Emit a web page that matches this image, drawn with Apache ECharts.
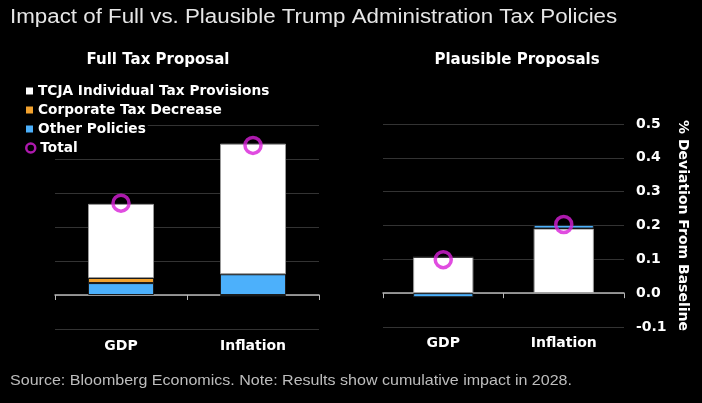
<!DOCTYPE html>
<html>
<head>
<meta charset="utf-8">
<style>html,body{margin:0;padding:0;background:#000;}#c{width:702px;height:403px;}</style>
<script src="https://cdn.jsdelivr.net/npm/echarts@6/dist/echarts.min.js"></script>
</head>
<body>
<div id="c"></div>
<script>
const categories = ['GDP', 'Inflation'];
const fullTCJA = [0.218, 0.384];
const fullCorporate = [0.015, -0.004];
const fullOther = [0.035, 0.061];
const fullTotal = [0.27, 0.44];
const plausTCJA = [0.107, 0.191];
const plausCorporate = [0, 0];
const plausOther = [-0.012, 0.011];
const plausTotal = [0.099, 0.203];
const yTicks = [-0.1, 0, 0.1, 0.2, 0.3, 0.4, 0.5];

const WHITE = '#ffffff', ORANGE = '#f2a22e', BLUE = '#4cb0fb', MAG = '#d81fd8';
const boldFont = 'DejaVu Sans';

const chart = echarts.init(document.getElementById('c'), null, {renderer: 'canvas'});

function xAxis(gi, margin) {
  return {
    type: 'category', gridIndex: gi, data: categories,
    axisLine: {onZero: true, lineStyle: {color: '#b8b8b8', width: 1.5}},
    axisTick: {show: true, length: 5, lineStyle: {color: '#b8b8b8', width: 1}},
    axisLabel: {color: '#fff', fontFamily: boldFont, fontWeight: 'bold', fontSize: 14, margin: margin},
    splitLine: {show: false}
  };
}
function yAxis(gi, showLabels) {
  return {
    type: 'value', gridIndex: gi, min: yTicks[0], max: yTicks[yTicks.length - 1], interval: 0.1,
    position: 'right',
    axisLine: {show: false}, axisTick: {show: false},
    splitLine: {lineStyle: {color: '#333', width: 1}},
    axisLabel: {show: showLabels, color: '#fff', fontFamily: boldFont, fontWeight: 'bold', fontSize: 14, margin: 12,
      formatter: v => (Math.abs(v) < 1e-9 ? 0 : v).toFixed(1)},
    name: showLabels ? '% Deviation From Baseline' : '',
    nameLocation: 'middle', nameRotate: -90, nameGap: 52,
    nameTextStyle: {color: '#fff', fontFamily: boldFont, fontWeight: 'bold', fontSize: 14}
  };
}
function bar(name, data, color, gi, border) {
  return {
    type: 'bar', name: name, data: data, stack: 's' + gi, xAxisIndex: gi, yAxisIndex: gi,
    barWidth: '50%',
    itemStyle: {color: color, borderColor: border, borderWidth: 1},
    emphasis: {disabled: true}
  };
}
function total(data, gi) {
  return {
    type: 'scatter', name: 'Total', data: data, xAxisIndex: gi, yAxisIndex: gi,
    symbol: 'circle', symbolSize: 16, z: 5,
    itemStyle: {color: 'rgba(0,0,0,0)', borderColor: MAG, borderWidth: 3.5},
    emphasis: {disabled: true}
  };
}

const legendText = {color: '#fff', fontFamily: boldFont, fontWeight: 'bold', fontSize: 13.7, lineHeight: 14,
  backgroundColor: '#000', padding: [0, 2, 0, 0]};

chart.setOption({
  backgroundColor: '#000',
  animation: false,
  title: [
    {text: 'Full Tax Proposal', left: 158, top: 53, textAlign: 'center', padding: 0,
      textStyle: {color: '#fff', fontFamily: boldFont, fontWeight: 'bold', fontSize: 15}},
    {text: 'Plausible Proposals', left: 517, top: 53, textAlign: 'center', padding: 0,
      textStyle: {color: '#fff', fontFamily: boldFont, fontWeight: 'bold', fontSize: 15}}
  ],
  graphic: [
    {type: 'text', x: 10, y: 18, scaleX: 1.145, silent: true,
      style: {text: 'Impact of Full vs. Plausible Trump Administration Tax Policies', fill: '#e6e6e6',
        font: '19.5px "Liberation Sans", sans-serif', verticalAlign: 'middle', align: 'left'}},
    {type: 'text', x: 10, y: 381, scaleX: 1.07, silent: true,
      style: {text: 'Source: Bloomberg Economics. Note: Results show cumulative impact in 2028.', fill: '#bdbdbd',
        font: '15px "Liberation Sans", sans-serif', verticalAlign: 'middle', align: 'left'}}
  ],
  legend: [
    {orient: 'vertical', left: 26, top: 84, padding: 0, itemWidth: 7, itemHeight: 7, itemGap: 5,
      selectedMode: false, textStyle: legendText,
      data: [
        {name: 'TCJA Individual Tax Provisions', icon: 'rect', itemStyle: {borderWidth: 0}},
        {name: 'Corporate Tax Decrease', icon: 'rect', itemStyle: {borderWidth: 0}},
        {name: 'Other Policies', icon: 'rect', itemStyle: {borderWidth: 0}}
      ]},
    {orient: 'vertical', left: 25, top: 141, padding: 0, itemWidth: 9, itemHeight: 9,
      selectedMode: false, textStyle: legendText,
      data: [{name: 'Total', icon: 'circle', itemStyle: {color: 'rgba(0,0,0,0)', borderColor: MAG, borderWidth: 2.5}}]}
  ],
  grid: [
    {left: 55, right: 383, top: 125, bottom: 74},
    {left: 383, right: 78, top: 124, bottom: 76}
  ],
  xAxis: [xAxis(0, 10), xAxis(1, 9)],
  yAxis: [yAxis(0, false), yAxis(1, true)],
  series: [
    bar('Other Policies', fullOther, BLUE, 0, '#1a1a1a'),
    bar('Corporate Tax Decrease', fullCorporate, ORANGE, 0, '#1a1a1a'),
    bar('TCJA Individual Tax Provisions', fullTCJA, WHITE, 0, '#999'),
    total(fullTotal, 0),
    bar('TCJA Individual Tax Provisions', plausTCJA, WHITE, 1, '#999'),
    bar('Corporate Tax Decrease', plausCorporate, ORANGE, 1, '#1a1a1a'),
    bar('Other Policies', plausOther, BLUE, 1, '#1a1a1a'),
    total(plausTotal, 1)
  ]
});
</script>
</body>
</html>
